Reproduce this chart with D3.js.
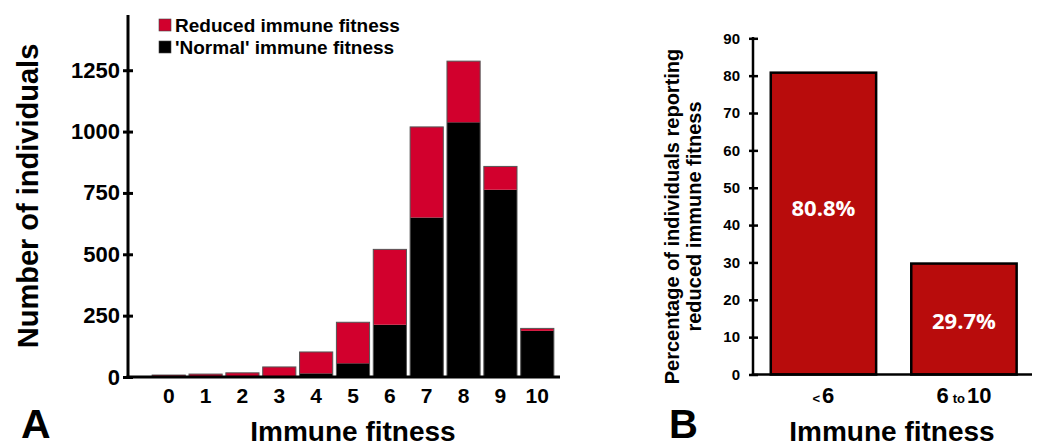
<!DOCTYPE html>
<html>
<head>
<meta charset="utf-8">
<script src="https://cdn.jsdelivr.net/npm/d3@7"></script>
<style>
  html, body { margin: 0; padding: 0; background: #fff; }
  svg { display: block; }
  text { font-family: "Liberation Sans", Arial, Helvetica, sans-serif; font-weight: bold; fill: #000; }
</style>
</head>
<body>
<svg id="chart" width="1040" height="448"></svg>
<script>
// ---- Data ----
const fitnessScores = ["0","1","2","3","4","5","6","7","8","9","10"];
const normalCounts  = [0, 1, 1, 2, 15, 56, 213, 650, 1038, 763, 188];
const reducedCounts = [8, 11, 16, 39, 87, 167, 307, 369, 249, 95, 10];
const countTicks = [0, 250, 500, 750, 1000, 1250];
const seriesNames = ["Reduced immune fitness", "'Normal' immune fitness"];

const groupLabels = ["< 6", "6 to 10"];
const groupPercent = [80.8, 29.7];
const percentTicks = [0, 10, 20, 30, 40, 50, 60, 70, 80, 90];

const RED_A = "#d2002d";
const RED_B = "#b80c0c";

const svg = d3.select("#chart");
svg.append("rect").attr("width", 1040).attr("height", 448).attr("fill", "#fff");

// ================= Panel A =================
const A = { left: 128, right: 560, top: 15, bottom: 377 };
const table = fitnessScores.map((s, i) => ({ score: s, normal: normalCounts[i], reduced: reducedCounts[i] }));
const stacked = d3.stack().keys(["normal", "reduced"])(table);

const xA = d3.scaleBand().domain(fitnessScores).range([150.3, 555.7]).paddingInner(0.1).paddingOuter(0.05);
const yA = d3.scaleLinear().domain([0, 1475]).range([A.bottom, A.top]);
const colorA = { normal: "#000", reduced: RED_A };

const gA = svg.append("g");
gA.selectAll("g.layer").data(stacked).join("g")
  .attr("class", "layer")
  .attr("fill", d => colorA[d.key])
  .selectAll("rect").data(d => d).join("rect")
  .attr("x", d => xA(d.data.score))
  .attr("width", xA.bandwidth())
  .attr("y", d => yA(d[1]))
  .attr("height", d => Math.max(0, yA(d[0]) - yA(d[1])));

// thin outline around whole bars
gA.selectAll("rect.outline").data(table).join("rect")
  .attr("class", "outline")
  .attr("x", d => xA(d.score))
  .attr("width", xA.bandwidth())
  .attr("y", d => yA(d.normal + d.reduced))
  .attr("height", d => yA(0) - yA(d.normal + d.reduced))
  .attr("fill", "none").attr("stroke", "#555").attr("stroke-width", 1);

// y axis A
const yAxisA = d3.axisLeft(yA).tickValues(countTicks).tickFormat(d3.format("d")).tickSize(5).tickPadding(3);
const gyA = svg.append("g").attr("transform", `translate(${A.left},0)`).call(yAxisA);
gyA.select(".domain").remove();
gyA.selectAll(".tick line").attr("x1", 5).attr("stroke", "#000").attr("stroke-width", 3);
gyA.selectAll(".tick text").style("font-size", "22px").attr("fill", "#000");
svg.append("line").attr("x1", A.left).attr("x2", A.left).attr("y1", A.top).attr("y2", A.bottom + 1.5)
  .attr("stroke", "#000").attr("stroke-width", 3);

// x axis A
const xAxisA = d3.axisBottom(xA).tickSize(0).tickPadding(11);
const gxA = svg.append("g").attr("transform", `translate(0,${A.bottom})`).call(xAxisA);
gxA.select(".domain").remove();
gxA.selectAll(".tick text").style("font-size", "21px").attr("fill", "#000");
svg.append("line").attr("x1", A.left - 1.5).attr("x2", A.right).attr("y1", A.bottom).attr("y2", A.bottom)
  .attr("stroke", "#000").attr("stroke-width", 3);

// legend A
const legendColors = [RED_A, "#000"];
const lg = svg.append("g");
seriesNames.forEach((name, i) => {
  lg.append("rect").attr("x", 159).attr("y", 19 + i * 22).attr("width", 12).attr("height", 12)
    .attr("fill", legendColors[i]).attr("stroke", "#444").attr("stroke-width", 0.6);
  lg.append("text").attr("x", 175).attr("y", 31.5 + i * 22).style("font-size", "19px").text(name);
});

// axis titles A
svg.append("text").attr("transform", "translate(38,196) rotate(-90)")
  .attr("text-anchor", "middle").style("font-size", "29px").text("Number of individuals");
svg.append("text").attr("x", 353).attr("y", 441).attr("text-anchor", "middle")
  .style("font-size", "28px").text("Immune fitness");
svg.append("text").attr("x", 21).attr("y", 438).style("font-size", "41px").text("A");

// ================= Panel B =================
const B = { left: 753, right: 1032, top: 37, bottom: 374.5 };
const xB = d3.scaleBand().domain(groupLabels).range([753.2, 1034.2]).paddingInner(0.25).paddingOuter(0.125);
const yB = d3.scaleLinear().domain([0, 90]).range([B.bottom, 38.3]);

const gB = svg.append("g");
gB.selectAll("rect").data(groupLabels).join("rect")
  .attr("x", d => xB(d))
  .attr("width", xB.bandwidth())
  .attr("y", (d, i) => yB(groupPercent[i]))
  .attr("height", (d, i) => yB(0) - yB(groupPercent[i]))
  .attr("fill", RED_B).attr("stroke", "#000").attr("stroke-width", 2.5);

// value labels inside bars
const labelFrac = [0.553, 0.477];
gB.selectAll("text.val").data(groupLabels).join("text")
  .attr("class", "val")
  .attr("x", d => xB(d) + xB.bandwidth() / 2)
  .attr("y", (d, i) => yB(groupPercent[i] * labelFrac[i]))
  .attr("dy", "0.36em")
  .attr("text-anchor", "middle")
  .style("font-family", "'Open Sans', 'DejaVu Sans', sans-serif")
  .style("font-weight", "bold")
  .style("font-size", "22px")
  .style("fill", "#fff")
  .text((d, i) => groupPercent[i].toFixed(1) + "%");

// y axis B
const yAxisB = d3.axisLeft(yB).tickValues(percentTicks).tickSize(4).tickPadding(9);
const gyB = svg.append("g").attr("transform", `translate(${B.left},0)`).call(yAxisB);
gyB.select(".domain").remove();
gyB.selectAll(".tick line").attr("x1", 5).attr("stroke", "#000").attr("stroke-width", 2.5);
gyB.selectAll(".tick text").style("font-size", "15px").attr("fill", "#000");
svg.append("line").attr("x1", B.left).attr("x2", B.left).attr("y1", B.top).attr("y2", B.bottom + 1.25)
  .attr("stroke", "#000").attr("stroke-width", 2.5);

// x axis B
const xAxisB = d3.axisBottom(xB).tickSize(0).tickPadding(0);
const gxB = svg.append("g").attr("transform", `translate(0,${B.bottom})`).call(xAxisB);
gxB.select(".domain").remove();
gxB.selectAll(".tick text").each(function(d) {
  const t = d3.select(this);
  t.text(null).attr("y", 28.5).attr("dy", null).attr("fill", "#000");
  const parts = d.split(" ");
  parts.forEach((p, i) => {
    const small = isNaN(+p);
    t.append("tspan")
      .attr("dx", i === 0 ? 0 : (small ? 4 : 2))
      .style("font-size", small ? "13px" : "22px")
      .text(p);
  });
});
svg.append("line").attr("x1", B.left - 1.25).attr("x2", B.right).attr("y1", B.bottom).attr("y2", B.bottom)
  .attr("stroke", "#000").attr("stroke-width", 2.5);

// axis titles B
const tB = svg.append("text").attr("transform", "translate(679,216.5) rotate(-90)")
  .attr("text-anchor", "middle").style("font-size", "20px");
tB.append("tspan").attr("x", 0).attr("y", 0).text("Percentage of individuals reporting");
tB.append("tspan").attr("x", 0).attr("y", 22).text("reduced immune fitness");
svg.append("text").attr("x", 892).attr("y", 441).attr("text-anchor", "middle")
  .style("font-size", "28px").text("Immune fitness");
svg.append("text").attr("x", 669).attr("y", 438).style("font-size", "40px").text("B");
</script>
</body>
</html>
